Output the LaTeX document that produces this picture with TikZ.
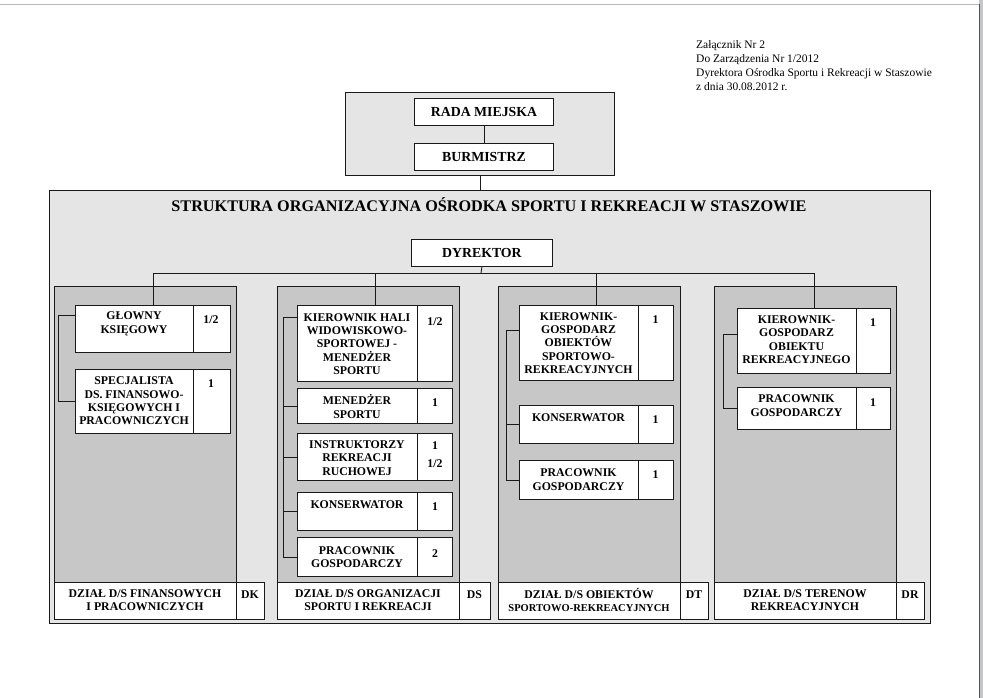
\documentclass[tikz,border=0pt]{standalone}
\usepackage{fontspec}
\setmainfont{Liberation Serif}
\definecolor{panelgray}{gray}{0.9}
\definecolor{colgray}{gray}{0.78}
\definecolor{edgegray}{RGB}{70,85,85}

\begin{document}
\begin{tikzpicture}[x=1pt, y=-1pt,
    every node/.style={inner sep=0pt},
    panel/.style ={draw=black!90, line width=0.9pt, fill=panelgray, anchor=north west},
    colbox/.style={draw=black!90, line width=0.9pt, fill=colgray, anchor=north west},
    cell/.style  ={draw=black!90, line width=0.9pt, fill=white, anchor=north west},
    txt/.style   ={align=center, font=\fontsize{11.8}{13.4}\selectfont\bfseries},
    big/.style   ={font=\fontsize{13.8}{16}\selectfont\bfseries},
    hdr/.style   ={align=left, anchor=west, font=\fontsize{11.5}{14}\selectfont},
    link/.style  ={draw=black!90, line width=0.9pt},
  ]
  \useasboundingbox (0,0) rectangle (983,698);
  % --- page edge ---
  \draw[gray!55] (0,4) -- (979,4);
  \fill[gray!45] (979,0) rectangle (983,698);
  \draw[edgegray, line width=1.5pt] (979.5,4) -- (979.5,698);

  % --- note ---
  \node[hdr] (note) at (696,66) {Załącznik Nr 2\\Do Zarządzenia Nr 1/2012\\Dyrektora Ośrodka Sportu i Rekreacji w Staszowie\\z dnia 30.08.2012 r.};

  % --- council ---
  \node[panel, minimum width=269, minimum height=83] (top) at (345,92) {};
  \node[cell, big, minimum width=139, minimum height=27] (rada) at (414,98) {RADA MIEJSKA};
  \node[cell, big, minimum width=139, minimum height=27] (burm) at (414,143) {BURMISTRZ};
  \draw[link] (rada) -- (burm);

  % --- main frame ---
  \node[panel, minimum width=881, minimum height=433] (main) at (49,190) {};
  \draw[link] (top.south) -- (top.south |- main.north);
  \node[font=\fontsize{16.2}{19}\selectfont\bfseries] (title) at (489,205)
    {STRUKTURA ORGANIZACYJNA OŚRODKA SPORTU I REKREACJI W STASZOWIE};
  \node[cell, big, minimum width=141, minimum height=27] (dyr) at (411,239) {DYREKTOR};

  % --- columns ---
  \node[colbox, minimum width=182, minimum height=296] (col1) at (54,286) {};
  \node[colbox, minimum width=182, minimum height=296] (col2) at (277,286) {};
  \node[colbox, minimum width=182, minimum height=296] (col3) at (498,286) {};
  \node[colbox, minimum width=182, minimum height=296] (col4) at (714,286) {};

  % --- DK ---
  \node[cell, minimum width=155, minimum height=47] (glk) at (75,305) {};
  \draw[link] ([xshift=118pt]glk.north west) -- ([xshift=118pt]glk.south west);
  \node[txt] (glk-t) at (134,324) {GŁOWNY\\KSIĘGOWY};
  \node[txt] (glk-n) at (211,320) {1/2};
  \node[cell, minimum width=155, minimum height=64] (spe) at (75,369) {};
  \draw[link] ([xshift=118pt]spe.north west) -- ([xshift=118pt]spe.south west);
  \node[txt] (spe-t) at (134,401) {SPECJALISTA\\DS. FINANSOWO-\\KSIĘGOWYCH I\\PRACOWNICZYCH};
  \node[txt] (spe-n) at (211,384) {1};

  % --- DS ---
  \node[cell, minimum width=155, minimum height=76] (khw) at (297,305) {};
  \draw[link] ([xshift=120pt]khw.north west) -- ([xshift=120pt]khw.south west);
  \node[txt] (khw-t) at (357,344) {KIEROWNIK HALI\\WIDOWISKOWO-\\SPORTOWEJ -\\MENEDŻER\\SPORTU};
  \node[txt] (khw-n) at (435,322) {1/2};
  \node[cell, minimum width=155, minimum height=35] (mes) at (297,388) {};
  \draw[link] ([xshift=120pt]mes.north west) -- ([xshift=120pt]mes.south west);
  \node[txt] (mes-t) at (357,406.5) {MENEDŻER\\SPORTU};
  \node[txt] (mes-n) at (435,403) {1};
  \node[cell, minimum width=155, minimum height=47] (ins) at (297,433) {};
  \draw[link] ([xshift=120pt]ins.north west) -- ([xshift=120pt]ins.south west);
  \node[txt] (ins-t) at (357,458) {INSTRUKTORZY\\REKREACJI\\RUCHOWEJ};
  \node[txt] (ins-n) at (435,454.5) {1\\[5pt]1/2};
  \node[cell, minimum width=155, minimum height=38] (kon) at (297,492) {};
  \draw[link] ([xshift=120pt]kon.north west) -- ([xshift=120pt]kon.south west);
  \node[txt] (kon-t) at (357,505) {KONSERWATOR};
  \node[txt] (kon-n) at (435,507) {1};
  \node[cell, minimum width=155, minimum height=39] (prg) at (297,537) {};
  \draw[link] ([xshift=120pt]prg.north west) -- ([xshift=120pt]prg.south west);
  \node[txt] (prg-t) at (357,557) {PRACOWNIK\\GOSPODARCZY};
  \node[txt] (prg-n) at (435,554) {2};

  % --- DT ---
  \node[cell, minimum width=154, minimum height=75] (kgs) at (519,305) {};
  \draw[link] ([xshift=119pt]kgs.north west) -- ([xshift=119pt]kgs.south west);
  \node[txt] (kgs-t) at (578.5,343) {KIEROWNIK-\\GOSPODARZ\\OBIEKTÓW\\SPORTOWO-\\REKREACYJNYCH};
  \node[txt] (kgs-n) at (655.5,320) {1};
  \node[cell, minimum width=154, minimum height=38] (kon3) at (519,405) {};
  \draw[link] ([xshift=119pt]kon3.north west) -- ([xshift=119pt]kon3.south west);
  \node[txt] (kon3-t) at (578.5,418) {KONSERWATOR};
  \node[txt] (kon3-n) at (655.5,420) {1};
  \node[cell, minimum width=154, minimum height=39] (prg3) at (519,460) {};
  \draw[link] ([xshift=119pt]prg3.north west) -- ([xshift=119pt]prg3.south west);
  \node[txt] (prg3-t) at (578.5,479.5) {PRACOWNIK\\GOSPODARCZY};
  \node[txt] (prg3-n) at (655.5,475) {1};

  % --- DR ---
  \node[cell, minimum width=153, minimum height=65] (kgr) at (737,308) {};
  \draw[link] ([xshift=119pt]kgr.north west) -- ([xshift=119pt]kgr.south west);
  \node[txt] (kgr-t) at (796.5,339.5) {KIEROWNIK-\\GOSPODARZ\\OBIEKTU\\REKREACYJNEGO};
  \node[txt] (kgr-n) at (873,323) {1};
  \node[cell, minimum width=153, minimum height=42] (prg4) at (737,387) {};
  \draw[link] ([xshift=119pt]prg4.north west) -- ([xshift=119pt]prg4.south west);
  \node[txt] (prg4-t) at (796.5,405.5) {PRACOWNIK\\GOSPODARCZY};
  \node[txt] (prg4-n) at (873,403) {1};

  % --- department labels ---
  \node[cell, minimum width=210, minimum height=37] (lab1) at (54,582) {};
  \draw[link] ([xshift=182pt]lab1.north west) -- ([xshift=182pt]lab1.south west);
  \node[txt] (lab1-t) at (145,600) {DZIAŁ D/S FINANSOWYCH\\I PRACOWNICZYCH};
  \node[txt] (lab1-n) at (250,595) {DK};
  \node[cell, minimum width=213, minimum height=37] (lab2) at (277,582) {};
  \draw[link] ([xshift=182pt]lab2.north west) -- ([xshift=182pt]lab2.south west);
  \node[txt] (lab2-t) at (368,600) {DZIAŁ D/S ORGANIZACJI\\SPORTU I REKREACJI};
  \node[txt] (lab2-n) at (474.5,595) {DS};
  \node[cell, minimum width=210, minimum height=37] (lab3) at (498,582) {};
  \draw[link] ([xshift=182pt]lab3.north west) -- ([xshift=182pt]lab3.south west);
  \node[txt] (lab3-t) at (589,600) {DZIAŁ D/S OBIEKTÓW\\{\fontsize{10.5}{12}\selectfont SPORTOWO-REKREACYJNYCH}};
  \node[txt] (lab3-n) at (694,595) {DT};
  \node[cell, minimum width=210, minimum height=37] (lab4) at (714,582) {};
  \draw[link] ([xshift=182pt]lab4.north west) -- ([xshift=182pt]lab4.south west);
  \node[txt] (lab4-t) at (805,600) {DZIAŁ D/S TERENOW\\REKREACYJNYCH};
  \node[txt] (lab4-n) at (910,595) {DR};

  % --- connectors ---
  \coordinate (bus) at (481,273);
  \draw[link] (dyr.south) -- (bus);
  \draw[link] (bus -| glk.north) -- (bus -| kgr.north);
  \foreach \b in {glk,khw,kgs,kgr}
    \draw[link] (bus -| \b.north) -- (\b.north);

  \coordinate (s1) at (58,0);
  \draw[link] ([yshift=-10pt]glk.north west) -| (s1 |- spe.west) -- (spe.west);
  \coordinate (s2) at (283,0);
  \draw[link] ([yshift=-12pt]khw.north west) -| (s2 |- prg.west) -- (prg.west);
  \foreach \b in {mes,ins,kon}
    \draw[link] (s2 |- \b.west) -- (\b.west);
  \coordinate (s3) at (506,0);
  \draw[link] ([yshift=-25pt]kgs.north west) -| (s3 |- prg3.west) -- (prg3.west);
  \draw[link] (s3 |- kon3.west) -- (kon3.west);
  \coordinate (s4) at (723,0);
  \draw[link] ([yshift=-26pt]kgr.north west) -| (s4 |- prg4.west) -- (prg4.west);
\end{tikzpicture}
\end{document}
